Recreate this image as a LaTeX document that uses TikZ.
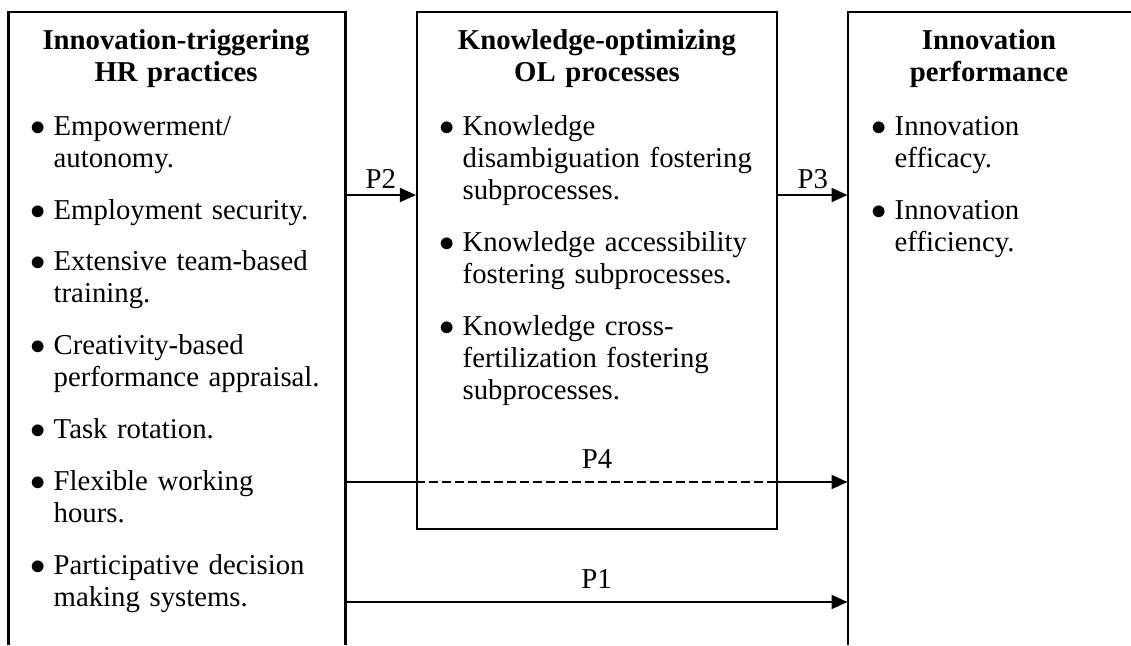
\documentclass[tikz,border=0pt]{standalone}
\usepackage{fontspec}
\usepackage{graphicx}
\setmainfont{Liberation Serif}
\usetikzlibrary{arrows.meta, fit, positioning}

\newlength{\bulw}
\setlength{\bulw}{10pt}
\newcommand{\bulletglyph}{\scalebox{1.1}{$\bullet$}}
\newcommand{\bitem}[1]{\noindent\hangindent=\bulw\hangafter=1\makebox[\bulw][l]{\bulletglyph}#1\par}
\newcommand{\bgap}{\vspace{8.6pt}}

\begin{document}
\begin{tikzpicture}[x=0.431pt, y=-0.431pt,
    font=\fontsize{12.4pt}{13.8pt}\selectfont,
    boxline/.style={line width=0.9pt},
    conn/.style={boxline, -{Triangle[length=6.9pt, width=6pt]}},
    title/.style={text width=170pt, align=center, inner sep=0pt,
      font=\fontsize{12.4pt}{13.8pt}\selectfont\bfseries, anchor=base},
    blist/.style={text width=170pt, align=left, inner sep=0pt, anchor=base west},
    plabel/.style={inner sep=0pt}]
  \useasboundingbox (0,0) rectangle (1131,645);

  % Boxes
  \node[fit={(9,12) (345,645)}, inner sep=0pt] (hr) {};
  \node[fit={(417,12) (777,529)}, inner sep=0pt, draw, boxline] (ol) {};
  \node[fit={(848,12) (1140,645)}, inner sep=0pt] (perf) {};
  \draw[boxline] (hr.south west) |- (hr.north east) -- (hr.south east);
  \draw[boxline] (perf.south west) |- (perf.north east);

  % Titles
  \node[title] (hrtitle) at (176,49) {Innovation-triggering\\HR practices};
  \node[title] (oltitle) at (597,49) {Knowledge-optimizing\\OL processes};
  \node[title] (perftitle) at (989,49) {Innovation\\performance};

  % Lists
  \node[blist] (hrlist) at (30,135) {%
    \bitem{Empowerment/\newline autonomy.}\bgap
    \bitem{Employment security.}\bgap
    \bitem{Extensive team-based\newline training.}\bgap
    \bitem{Creativity-based\newline performance appraisal.}\bgap
    \bitem{Task rotation.}\bgap
    \bitem{Flexible working\newline hours.}\bgap
    \bitem{Participative decision\newline making systems.}};
  \node[blist] (ollist) at (439,135) {%
    \bitem{Knowledge\newline disambiguation fostering\newline subprocesses.}\bgap
    \bitem{Knowledge accessibility\newline fostering subprocesses.}\bgap
    \bitem{Knowledge cross-\newline fertilization fostering\newline subprocesses.}};
  \node[blist] (perflist) at (871,135) {%
    \bitem{Innovation\newline efficacy.}\bgap
    \bitem{Innovation\newline efficiency.}};

  % Propositions
  \coordinate (rowA) at (0,195);
  \coordinate (rowB) at (0,482);
  \coordinate (rowC) at (0,602);

  \draw[conn] (hr.east |- rowA) -- node[plabel, above=2.4pt] {P2} (ol.west |- rowA);
  \draw[conn] (ol.east |- rowA) -- node[plabel, above=2.4pt] {P3} (perf.west |- rowA);

  \draw[boxline] (hr.east |- rowB) -- (ol.west |- rowB);
  \draw[boxline, dash pattern=on 3.9pt off 1.7pt] (ol.west |- rowB)
    -- node[plabel, above=5.2pt] {P4} (ol.east |- rowB);
  \draw[conn] (ol.east |- rowB) -- (perf.west |- rowB);

  \draw[conn] (hr.east |- rowC) -- node[plabel, above=5.2pt] {P1} (perf.west |- rowC);
\end{tikzpicture}
\end{document}
